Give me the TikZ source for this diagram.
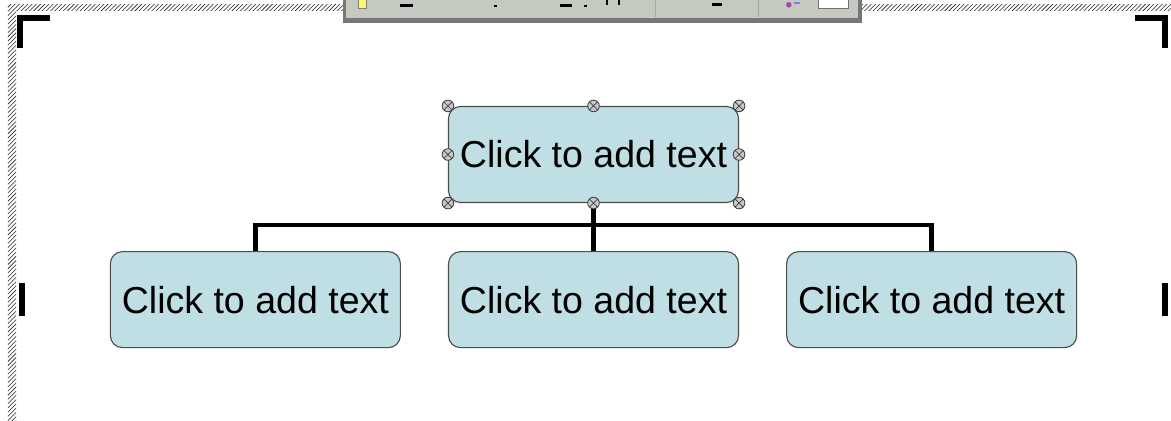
\documentclass[tikz,border=0pt]{standalone}
\usepackage{fontspec}
\setmainfont{Liberation Sans}
\usetikzlibrary{positioning,patterns}
\definecolor{boxfill}{RGB}{192,223,228}
\definecolor{barface}{RGB}{197,202,192}
\definecolor{bardark}{RGB}{118,120,118}

\begin{document}
\begin{tikzpicture}[
  unit/.style={rectangle, rounded corners=0.3cm, draw=black!70, line width=0.8pt, fill=boxfill, minimum width=7.25cm, minimum height=2.4cm, inner sep=0pt, font=\fontsize{26.7}{30}\selectfont},
  link/.style={line width=0.11cm, line join=miter},
  handle/.style={circle, draw=black!75, fill=black!22, line width=0.6pt, minimum size=0.29cm, inner sep=0pt,
    path picture={\draw[black!75, line width=0.5pt] (path picture bounding box.north west) -- (path picture bounding box.south east)
      (path picture bounding box.north east) -- (path picture bounding box.south west);}},
  hatch/.style={pattern=north east lines, pattern color=black!85},
  cropmark/.style={fill=black},
  node distance=1.2cm and 1.175cm
]
  \useasboundingbox (0,0) rectangle (29.275,-10.5);
  \fill[white] (0,0) rectangle (29.275,-10.5);

  % slide border
  \fill[hatch] (0.2,-0.1) rectangle (0.4,-10.5);
  \fill[hatch] (0.4,-0.1) rectangle (8.575,-0.25);
  \fill[hatch] (21.55,-0.1) rectangle (29.275,-0.25);

  % toolbar
  \fill[bardark] (8.575,0) rectangle (21.55,-0.575);
  \fill[barface] (8.66,0) rectangle (21.46,-0.46);
  \draw[black!35] (16.375,0) -- (16.375,-0.42);
  \draw[black!35] (18.95,0) -- (18.95,-0.42);
  \draw[black!50, fill=yellow!60] (8.95,0.05) rectangle (9.15,-0.2);
  \fill (10.0,-0.1) rectangle (10.33,-0.17);
  \fill (12.35,-0.12) rectangle (12.42,-0.18);
  \fill (14.0,-0.1) rectangle (14.3,-0.17);
  \fill (14.6,-0.12) rectangle (14.67,-0.18);
  \fill (15.15,0) rectangle (15.2,-0.12);
  \fill (15.45,0) rectangle (15.5,-0.12);
  \fill (17.8,-0.08) rectangle (18.05,-0.14);
  \fill[violet!70] (19.72,-0.12) circle (0.07);
  \fill[blue!50] (19.85,-0.05) rectangle (20.0,-0.1);
  \draw[black!55, fill=white] (20.45,0.05) rectangle (21.2,-0.2);

  % crop marks
  \fill[cropmark] (0.425,-0.375) rectangle ++(0.825,-0.15);
  \fill[cropmark] (0.425,-0.375) rectangle ++(0.15,-0.825);
  \fill[cropmark] (29.2,-0.375) rectangle ++(-0.825,-0.15);
  \fill[cropmark] (29.2,-0.375) rectangle ++(-0.15,-0.825);
  \fill[cropmark] (0.475,-7.075) rectangle (0.625,-7.9);
  \fill[cropmark] (29.05,-7.075) rectangle (29.2,-7.9);

  % org chart
  \node[unit] (boss) at (14.8375,-3.8625) {Click to add text};
  \node[unit, below=of boss] (subB) {Click to add text};
  \node[unit, left=of subB] (subA) {Click to add text};
  \node[unit, right=of subB] (subC) {Click to add text};

  \coordinate (bus) at ([yshift=-0.55cm]boss.south);
  \draw[link] (boss.south) -- (subB.north);
  \draw[link] (subA.north) |- (bus) -| (subC.north);

  \foreach \a/\n in {north west/nw, north/n, north east/ne, west/w, east/e, south west/sw, south/s, south east/se}
    \node[handle] (h\n) at (boss.\a) {};
\end{tikzpicture}
\end{document}
